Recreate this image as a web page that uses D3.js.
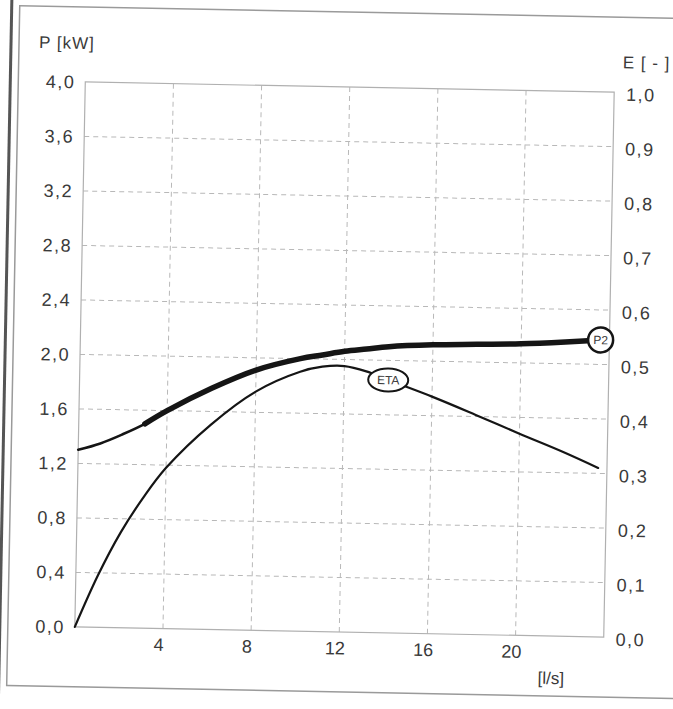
<!DOCTYPE html>
<html>
<head>
<meta charset="utf-8">
<title>P2 / ETA</title>
<script src="https://d3js.org/d3.v7.min.js"></script>
<style>
  html, body { margin: 0; padding: 0; background: #fff; }
  text { font-family: "Liberation Sans", Arial, sans-serif; fill: #3a3a3a; }
  .grid line { stroke: #b8b8b8; stroke-width: 1; stroke-dasharray: 5 4; }
  .curve { fill: none; stroke: #151515; stroke-linecap: round; stroke-linejoin: round; }
</style>
</head>
<body>
<script>

// flow [l/s], P2 [kW], ETA [-]
var flow = [0, 1, 2, 3, 4, 6, 8, 10, 11, 12, 13, 14, 16, 18, 20, 22, 23.6];
var p2   = [1.30, 1.35, 1.42, 1.50, 1.60, 1.77, 1.91, 2.00, 2.03, 2.06, 2.08, 2.10, 2.12, 2.13, 2.14, 2.16, 2.18];
var eta  = [0, 0.095, 0.175, 0.24, 0.295, 0.376, 0.438, 0.476, 0.486, 0.488, 0.479, 0.464, 0.435, 0.403, 0.37, 0.338, 0.31];

var qTicks = [4, 8, 12, 16, 20];
var pTicks = [0, 0.4, 0.8, 1.2, 1.6, 2.0, 2.4, 2.8, 3.2, 3.6, 4.0];
var eTicks = [0, 0.1, 0.2, 0.3, 0.4, 0.5, 0.6, 0.7, 0.8, 0.9, 1.0];

var W = 673, H = 709;
var m = { left: 80, right: 609, top: 87, bottom: 632 };

var comma = function(v) { return d3.format(".1f")(v).replace(".", ","); };

var x = d3.scaleLinear().domain([0, 24]).range([m.left, m.right]);
var yP = d3.scaleLinear().domain([0, 4]).range([m.bottom, m.top]);
var yE = d3.scaleLinear().domain([0, 1]).range([m.bottom, m.top]);

var svg = d3.select("body").append("svg")
    .attr("width", W)
    .attr("height", H);

// the scan is a little bit skewed
var g = svg.append("g")
    .attr("transform", "rotate(1.1 344 360)");

// paper frame
g.append("line")
    .attr("x1", 5).attr("x2", 5).attr("y1", -10).attr("y2", H + 10)
    .style("stroke", "#555").style("stroke-width", 3);
g.append("rect")
    .attr("x", 13).attr("y", 12).attr("width", W + 20).attr("height", 680)
    .style("fill", "none").style("stroke", "#9a9a9a").style("stroke-width", 1.5);

// grid
var grid = g.append("g").attr("class", "grid");
grid.selectAll(".gx").data(qTicks).enter().append("line")
    .attr("x1", d => x(d)).attr("x2", d => x(d))
    .attr("y1", m.top).attr("y2", m.bottom);
grid.selectAll(".gy").data(pTicks.slice(1, -1)).enter().append("line")
    .attr("x1", m.left).attr("x2", m.right)
    .attr("y1", d => yP(d)).attr("y2", d => yP(d));

g.append("rect")
    .attr("x", m.left).attr("y", m.top)
    .attr("width", m.right - m.left).attr("height", m.bottom - m.top)
    .style("fill", "none").style("stroke", "#b0b0b0").style("stroke-width", 1.2);

// curves
var pts = flow.map((q, i) => ({ q: q, p: p2[i], e: eta[i] }));

var smooth = d3.curveCatmullRom.alpha(0.5);
var lineP = d3.line().x(d => x(d.q)).y(d => yP(d.p)).curve(smooth);
var lineE = d3.line().x(d => x(d.q)).y(d => yE(d.e)).curve(smooth);

g.append("path").attr("class", "curve")
    .attr("d", lineE(pts)).style("stroke-width", 2.2);

g.append("path").attr("class", "curve")
    .attr("d", lineP(pts)).style("stroke-width", 2.6);
g.append("path").attr("class", "curve")
    .attr("d", lineP(pts.filter(d => d.q >= 3))).style("stroke-width", 5.5);

// curve labels
var etaAt = pts[flow.indexOf(14)];
var lab = g.append("g").attr("transform", "translate(" + x(etaAt.q) + "," + yE(etaAt.e) + ")");
lab.append("ellipse").attr("rx", 20).attr("ry", 11.5)
    .style("fill", "#fff").style("stroke", "#151515").style("stroke-width", 2);
lab.append("text").attr("text-anchor", "middle").attr("dy", "0.36em")
    .style("font-size", "12px").text("ETA");

var pEnd = pts[pts.length - 1];
var lab2 = g.append("g").attr("transform", "translate(" + x(pEnd.q) + "," + yP(pEnd.p) + ")");
lab2.append("circle").attr("r", 12.5)
    .style("fill", "#fff").style("stroke", "#151515").style("stroke-width", 2.5);
lab2.append("text").attr("text-anchor", "middle").attr("dy", "0.36em")
    .style("font-size", "12px").text("P2");

// axis labels
var tickFont = "18px";
g.selectAll(".pl").data(pTicks).enter().append("text")
    .attr("x", m.left - 10).attr("y", d => yP(d)).attr("dy", "0.36em")
    .attr("text-anchor", "end")
    .style("font-size", tickFont).style("letter-spacing", "1.5px")
    .text(comma);

g.selectAll(".el").data(eTicks).enter().append("text")
    .attr("x", m.right + 12).attr("y", d => yE(d) + 2).attr("dy", "0.36em")
    .style("font-size", tickFont).style("letter-spacing", "1.5px")
    .text(comma);

g.selectAll(".ql").data(qTicks).enter().append("text")
    .attr("x", d => x(d) - 4).attr("y", m.bottom + 16).attr("dy", "0.36em")
    .attr("text-anchor", "middle")
    .style("font-size", tickFont)
    .text(d => d);

g.append("text").attr("x", m.left - 47).attr("y", m.top - 33)
    .style("font-size", "17px").style("letter-spacing", "1px").text("P [kW]");
g.append("text").attr("x", m.right + 8).attr("y", m.top - 24)
    .style("font-size", "17px").style("letter-spacing", "1px").text("E [ - ]");
g.append("text").attr("x", x(22) - 8).attr("y", m.bottom + 48)
    .attr("text-anchor", "middle")
    .style("font-size", "17px").text("[l/s]");

</script>
</body>
</html>
